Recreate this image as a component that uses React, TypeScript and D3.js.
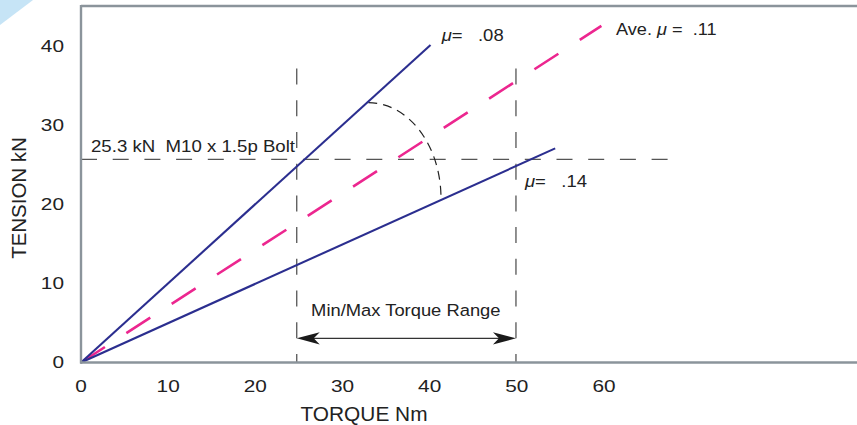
import React from "react";
import * as d3 from "d3";

const xTicks = [0, 10, 20, 30, 40, 50, 60];
const yTicks = [0, 10, 20, 30, 40];

// friction lines: [torque Nm, tension kN]
const mu08 = [[0, 0], [40.1, 40.2]];
const mu14 = [[0, 0], [54.4, 27.1]];
const muAve = [[0, 0], [59.7, 42.6]];

const boltTension = 25.7; // drawn position of the 25.3 kN line
const boltLineEnd = 67.3;
const torqueMin = 24.75;
const torqueMax = 49.9;
const rangeTop = 37.2;
const arrowTension = 3.06;
const arcStart = [32.96, 32.9];
const arcEnd = [41.3, 20.8];

const W = 857;
const H = 425;
const FONT = "'Liberation Sans', Arial, sans-serif";

type TProps = {
  x: number;
  y: number;
  s: number;
  size: number;
  anchor?: string;
  rotate?: number;
  children: React.ReactNode;
};

function T({ x, y, s, size, anchor = "start", rotate = 0, children }: TProps) {
  return (
    <text
      transform={`translate(${x},${y}) rotate(${rotate}) scale(${s},1)`}
      fontSize={size}
      textAnchor={anchor}
      fill="#222"
      style={{ whiteSpace: "pre" }}
    >
      {children}
    </text>
  );
}

export default function App() {
  const x = d3.scaleLinear().domain([0, 60]).range([81, 604]);
  const y = d3.scaleLinear().domain([0, 40]).range([362.5, 46.5]);
  const line = d3
    .line<number[]>()
    .x((d) => x(d[0]))
    .y((d) => y(d[1]));

  const frame = "#8b949b";
  const navy = "#2b2e8f";
  const pink = "#ec268f";
  const dash = "#555";

  const sx = x(arcStart[0]);
  const sy = y(arcStart[1]);
  const ex = x(arcEnd[0]);
  const ey = y(arcEnd[1]);
  const arcPath = `M${sx},${sy} A${ex - sx},${ey - sy} 0 0 1 ${ex},${ey}`;

  const ay = y(arrowTension);
  const ax1 = x(torqueMin);
  const ax2 = x(torqueMax);
  const head = (tx: number, dir: number) =>
    `M${tx},${ay} L${tx - dir * 23},${ay - 6.2} L${tx - dir * 17},${ay} L${tx - dir * 23},${ay + 6.2} Z`;

  return (
    <svg
      width={W}
      height={H}
      style={{ position: "absolute", left: 0, top: 0, background: "#fff" }}
      fontFamily={FONT}
    >
      <rect x={0} y={0} width={W} height={H} fill="#fff" />
      <polygon points="0,0 33,0 0,25" fill="#c6e4f6" />

      {/* reference dashed lines */}
      <path
        d={line([[0, boltTension], [boltLineEnd, boltTension]])!}
        stroke={dash}
        strokeWidth={1.3}
        strokeDasharray="16 15.7"
        fill="none"
      />
      {[torqueMin, torqueMax].map((t) => (
        <path
          key={t}
          d={line([[t, rangeTop], [t, 0]])!}
          stroke={dash}
          strokeWidth={1.3}
          strokeDasharray="16 15.7"
          fill="none"
        />
      ))}

      {/* arc */}
      <path d={arcPath} stroke="#222" strokeWidth={1.2} strokeDasharray="9 6" fill="none" />

      {/* data lines */}
      <path d={line(muAve)!} stroke={pink} strokeWidth={2.6} strokeDasharray="28.5 25.5" fill="none" />
      <path d={line(mu08)!} stroke={navy} strokeWidth={2.1} fill="none" />
      <path d={line(mu14)!} stroke={navy} strokeWidth={2.1} fill="none" />

      {/* range arrow */}
      <line x1={ax1 + 10} x2={ax2 - 10} y1={ay} y2={ay} stroke="#333" strokeWidth={1.2} />
      <path d={head(ax1, -1)} fill="#1a1a1a" />
      <path d={head(ax2, 1)} fill="#1a1a1a" />
      <T x={405.8} y={315.7} s={1.08} size={17} anchor="middle">
        Min/Max Torque Range
      </T>

      {/* frame */}
      <line x1={81} x2={W} y1={6} y2={6} stroke={frame} strokeWidth={2.4} />
      <line x1={81} x2={81} y1={5} y2={363.5} stroke={frame} strokeWidth={2.4} />
      <line x1={80} x2={W} y1={362.5} y2={362.5} stroke={frame} strokeWidth={2.4} />

      {/* ticks */}
      {xTicks.map((t) => (
        <T key={"x" + t} x={x(t)} y={392.3} s={1.3} size={16} anchor="middle">
          {t}
        </T>
      ))}
      {yTicks.map((t) => (
        <T key={"y" + t} x={64} y={y(t) + 5.8} s={1.3} size={16} anchor="end">
          {t}
        </T>
      ))}

      {/* axis titles */}
      <T x={364} y={421} s={1.07} size={19.5} anchor="middle">
        TORQUE Nm
      </T>
      <T x={26} y={198} s={1.05} size={19.5} anchor="middle" rotate={-90}>
        TENSION kN
      </T>

      {/* annotations */}
      <T x={91} y={151.7} s={1.13} size={16.5}>
        {"25.3 kN  M10 x 1.5p Bolt"}
      </T>
      <T x={441.7} y={40.5} s={1.12} size={16.5}>
        <tspan fontStyle="italic">μ</tspan>
        {"=   .08"}
      </T>
      <T x={616} y={35} s={1.1} size={16.5}>
        {"Ave. "}
        <tspan fontStyle="italic">μ</tspan>
        {" =  .11"}
      </T>
      <T x={525} y={187} s={1.12} size={16.5}>
        <tspan fontStyle="italic">μ</tspan>
        {"=   .14"}
      </T>
    </svg>
  );
}
